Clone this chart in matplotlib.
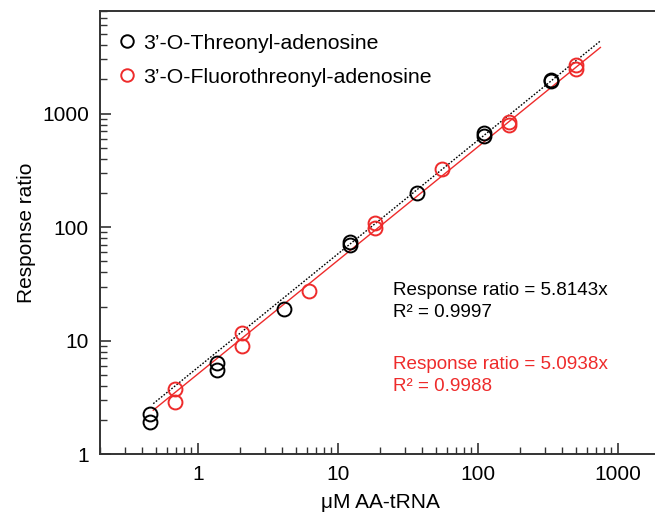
import matplotlib
matplotlib.use("Agg")
import matplotlib.pyplot as plt
from matplotlib.lines import Line2D

plt.rcParams['font.family'] = ['Liberation Sans', 'DejaVu Sans']

# measured response ratios vs AA-tRNA concentration (uM)
thr_x = [0.457, 0.457, 1.37, 1.37, 4.12, 12.3, 12.3, 37.0, 111, 111, 333, 333]
thr_y = [2.26, 1.91, 6.31, 5.51, 19.2, 74.1, 69.3, 198, 674, 630, 1990, 1950]
fthr_x = [0.69, 0.69, 2.06, 2.06, 6.17, 18.5, 18.5, 55.6, 167, 167, 500, 500]
fthr_y = [3.75, 2.90, 11.8, 9.02, 27.3, 109, 98.4, 327, 841, 787, 2690, 2480]

# linear fits through the origin
thr_slope = 5.8143
thr_r2 = 0.9997
fthr_slope = 5.0938
fthr_r2 = 0.9988
fit_x = [0.48, 750]

RED = '#ee2b2b'

fig = plt.figure(figsize=(6.55, 5.19), dpi=100)
ax = fig.add_axes([0.1527, 0.1247, 0.855, 0.8541])

ax.plot(fit_x, [thr_slope * v for v in fit_x], color='black', lw=1.0, ls=(0, (1.2, 1.2)))
ax.plot(fit_x, [fthr_slope * v for v in fit_x], color=RED, lw=1.0)

ax.plot(thr_x, thr_y, 'o', ms=10, mfc='none', mec='black', mew=1.4)
ax.plot(fthr_x, fthr_y, 'o', ms=10, mfc='none', mec=RED, mew=1.4)

ax.set_xscale('log')
ax.set_yscale('log')
ax.set_xlim(0.2, 2000)
ax.set_ylim(1, 8000)
ax.set_xticks([1, 10, 100, 1000])
ax.set_xticklabels(['1', '10', '100', '1000'])
ax.set_yticks([1, 10, 100, 1000])
ax.set_yticklabels(['1', '10', '100', '1000'])

for s in ax.spines.values():
    s.set_linewidth(1.4)
    s.set_color('#333333')
ax.spines['right'].set_visible(False)
ax.tick_params(which='major', direction='in', length=8, width=1.2, labelsize=15, pad=8, color='#333333')
ax.tick_params(which='minor', direction='in', length=5, width=1.0, color='#333333')

ax.set_xlabel('μM AA-tRNA', fontsize=15, labelpad=6)
ax.set_ylabel('Response ratio', fontsize=15, labelpad=4)

handles = [
    Line2D([], [], ls='none', marker='o', ms=9, mfc='none', mec='black', mew=1.4),
    Line2D([], [], ls='none', marker='o', ms=9, mfc='none', mec=RED, mew=1.4),
]
ax.legend(handles, ['3’-O-Threonyl-adenosine', '3’-O-Fluorothreonyl-adenosine'],
          loc='upper left', bbox_to_anchor=(-0.005, 0.997), frameon=False, fontsize=15.3,
          handlelength=0.8, handletextpad=0.35, labelspacing=0.72, borderaxespad=0.6)

ax.text(0.523, 0.345, f'Response ratio = {thr_slope}x\nR² = {thr_r2}', transform=ax.transAxes,
        fontsize=13.6, color='black', va='center', linespacing=1.35)
ax.text(0.523, 0.178, f'Response ratio = {fthr_slope}x\nR² = {fthr_r2}', transform=ax.transAxes,
        fontsize=13.6, color=RED, va='center', linespacing=1.35)

fig.savefig('out.png', dpi=100)
